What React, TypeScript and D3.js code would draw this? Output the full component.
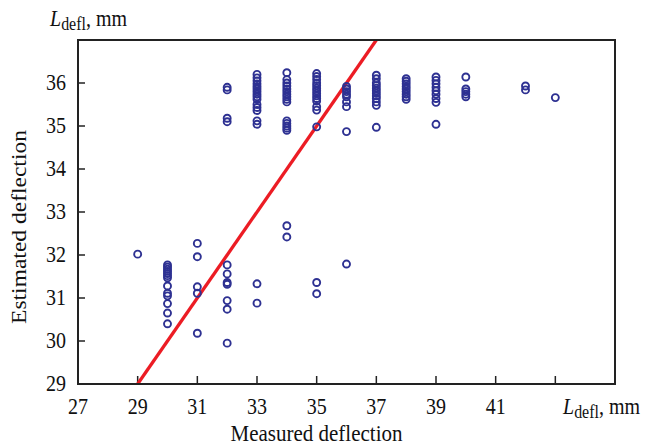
import React from "react";
import { scaleLinear, line } from "d3";

const xTicks = [27, 29, 31, 33, 35, 37, 39, 41, 43];
const xTickLabels = ["27", "29", "31", "33", "35", "37", "39", "41", ""];
const yTicks = [29, 30, 31, 32, 33, 34, 35, 36];

const measured = [29, 30, 31, 32, 33, 34, 35, 36, 37, 38, 39, 40, 42, 43];
const estimated = [
  [32.02],
  [31.77, 31.72, 31.67, 31.62, 31.57, 31.52, 31.47, 31.28, 31.11, 31.05, 30.87, 30.65, 30.4],
  [32.27, 31.96, 31.26, 31.11, 30.18],
  [35.9, 35.84, 35.18, 35.1, 31.77, 31.56, 31.36, 31.32, 30.94, 30.74, 29.95],
  [36.2, 36.12, 36.05, 35.98, 35.92, 35.86, 35.8, 35.74, 35.68, 35.62, 35.5, 35.43, 35.36, 35.12, 35.04, 31.33, 30.88],
  [36.24, 36.08, 36.0, 35.93, 35.86, 35.8, 35.74, 35.68, 35.62, 35.56, 35.12, 35.06, 35.0, 34.95, 34.9, 32.68, 32.42],
  [36.22, 36.15, 36.08, 36.0, 35.94, 35.88, 35.82, 35.76, 35.7, 35.64, 35.58, 35.45, 35.37, 34.98, 31.36, 31.1],
  [35.92, 35.86, 35.8, 35.74, 35.68, 35.56, 35.45, 34.87, 31.79],
  [36.18, 36.1, 36.0, 35.94, 35.88, 35.82, 35.76, 35.7, 35.64, 35.56, 35.48, 34.97],
  [36.1, 36.04, 35.98, 35.92, 35.86, 35.8, 35.74, 35.68, 35.62],
  [36.14, 36.06, 35.98, 35.9, 35.82, 35.74, 35.64, 35.55, 35.04],
  [36.14, 35.86, 35.8, 35.74, 35.68],
  [35.93, 35.84],
  [35.66],
];
const fitLine = [29, 37];

const W = 660;
const H = 447;
const left = 78;
const right = 615;
const top = 40;
const bottom = 384;
const navy = "#2e3192";
const red = "#ec1c24";
const font = "'Liberation Serif', 'Times New Roman', serif";
const sy = 1.12;

function Ldefl({ x, y, size }: { x: number; y: number; size: number }) {
  return (
    <text transform={`translate(${x},${y}) scale(1,${sy})`} fontFamily={font} fontSize={size} fill="#111">
      <tspan fontStyle="italic">L</tspan>
      <tspan fontSize={size * 0.8} dy={4}>defl</tspan>
      <tspan dy={-4}>, mm</tspan>
    </text>
  );
}

export default function App() {
  const x = scaleLinear().domain([27, 45]).range([left, right]);
  const y = scaleLinear().domain([29, 37]).range([bottom, top]);

  const points = measured.flatMap((m, i) => estimated[i].map((e) => [m, e]));
  const fit = line<number>()
    .x((d) => x(d))
    .y((d) => y(d));

  return (
    <svg width={W} height={H} style={{ position: "absolute", left: 0, top: 0, background: "#fff" }}>
      <defs>
        <clipPath id="plot">
          <rect x={left} y={top} width={right - left} height={bottom - top} />
        </clipPath>
      </defs>

      {xTicks.map((t, i) => (
        <g key={"x" + t}>
          <line x1={x(t)} x2={x(t)} y1={bottom} y2={bottom - 8} stroke="#222" strokeWidth={1.5} />
          <text
            transform={`translate(${x(t)},${bottom + 30}) scale(1,${sy})`}
            textAnchor="middle"
            fontFamily={font}
            fontSize={20}
            fill="#111"
          >
            {xTickLabels[i]}
          </text>
        </g>
      ))}
      {yTicks.map((t) => (
        <g key={"y" + t}>
          <line x1={left} x2={left + 7} y1={y(t)} y2={y(t)} stroke="#222" strokeWidth={1.5} />
          <text
            transform={`translate(${left - 12},${y(t) + 7}) scale(1,${sy})`}
            textAnchor="end"
            fontFamily={font}
            fontSize={20}
            fill="#111"
          >
            {t}
          </text>
        </g>
      ))}

      <g clipPath="url(#plot)">
        <path d={fit(fitLine) || ""} stroke={red} strokeWidth={3.3} fill="none" />
      </g>

      {points.map(([m, e], i) => (
        <circle key={i} cx={x(m)} cy={y(e)} r={3.5} fill="none" stroke={navy} strokeWidth={1.9} />
      ))}

      <rect x={left} y={top} width={right - left} height={bottom - top} fill="none" stroke="#222" strokeWidth={2} />

      <Ldefl x={50} y={26} size={20} />
      <Ldefl x={563} y={414} size={20} />

      <text
        transform={`translate(${(left + right) / 2 - 30},${441}) scale(1,${sy})`}
        textAnchor="middle"
        fontFamily={font}
        fontSize={21}
        fill="#111"
      >
        Measured deflection
      </text>
      <text
        transform={`translate(${26},${(top + bottom) / 2 + 15}) scale(1,${sy}) rotate(-90)`}
        textAnchor="middle"
        fontFamily={font}
        fontSize={21}
        fill="#111"
      >
        Estimated deflection
      </text>
    </svg>
  );
}
